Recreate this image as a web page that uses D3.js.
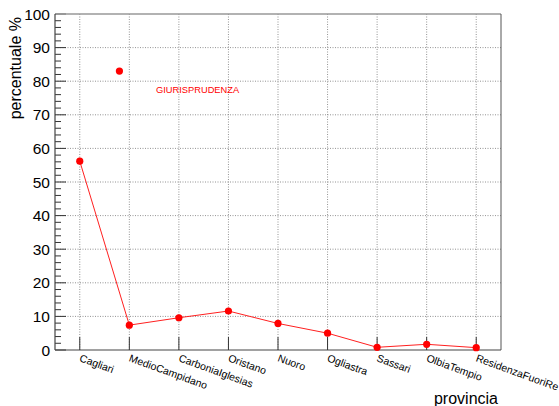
<!DOCTYPE html>
<html><head><meta charset="utf-8">
<script src="https://cdn.jsdelivr.net/npm/d3@7"></script>
<style>body{margin:0;background:#fff}svg{display:block}text{font-family:"Liberation Sans",Arial,sans-serif}</style>
</head><body><svg id="c" width="559" height="406"></svg>
<script>
const categories = ["Cagliari","MedioCampidano","CarboniaIglesias","Oristano","Nuoro","Ogliastra","Sassari","OlbiaTempio","ResidenzaFuoriRe"];
const values = [56.2, 7.4, 9.6, 11.6, 7.9, 5.0, 0.8, 1.7, 0.7];
const yTicks = [0,10,20,30,40,50,60,70,80,90,100];
const legendLabel = "GIURISPRUDENZA";
const legendPoint = [1.3, 83.0];

const svg = d3.select("#c");
const L=55, R=501, T=14, B=350;
const x = d3.scaleLinear().domain([0, categories.length]).range([L, R]);
const y = d3.scaleLinear().domain([0, 100]).range([B, T]);
const cx = i => x(i + 0.5);

// grid
const g = svg.append("g");
yTicks.filter(v=>v>0&&v<100).forEach(v=>{
  g.append("line").attr("x1",L).attr("x2",R).attr("y1",y(v)).attr("y2",y(v))
   .attr("stroke","#777").attr("stroke-width",0.8).attr("stroke-dasharray","1,1.5");
});
categories.forEach((c,i)=>{
  g.append("line").attr("x1",cx(i)).attr("x2",cx(i)).attr("y1",T).attr("y2",B)
   .attr("stroke","#777").attr("stroke-width",0.8).attr("stroke-dasharray","1,1.5");
});

// y axis ticks (inside)
const minor = d3.range(0, 100.001, 2);
minor.forEach(v=>{
  const major = Math.abs(v%10)<1e-6;
  svg.append("line").attr("x1",L).attr("x2",L+(major?11:6)).attr("y1",y(v)).attr("y2",y(v))
    .attr("stroke","#333").attr("stroke-width",1);
});
svg.append("g").selectAll("text").data(yTicks).join("text")
  .attr("x",L-5).attr("y",v=>y(v)+5.5).attr("text-anchor","end")
  .attr("font-size",15.5).attr("fill","#000").text(d=>d);

// x ticks
categories.forEach((c,i)=>{
  svg.append("line").attr("x1",cx(i)).attr("x2",cx(i)).attr("y1",B).attr("y2",B-13)
    .attr("stroke","#333").attr("stroke-width",1);
});
svg.append("g").selectAll("text").data(categories).join("text")
  .attr("transform",(d,i)=>`translate(${cx(i)-1},${B+11}) rotate(20)`)
  .attr("font-size",10.5).attr("fill","#000").text(d=>d);

// frame
svg.append("line").attr("x1",L).attr("x2",R).attr("y1",T).attr("y2",T).attr("stroke","#999").attr("stroke-width",1.5);
svg.append("line").attr("x1",R).attr("x2",R).attr("y1",T).attr("y2",B).attr("stroke","#555").attr("stroke-width",1);
svg.append("line").attr("x1",L).attr("x2",L).attr("y1",T).attr("y2",B).attr("stroke","#444").attr("stroke-width",1.2);
svg.append("line").attr("x1",L).attr("x2",R).attr("y1",B).attr("y2",B).attr("stroke","#444").attr("stroke-width",1.2);

// series
const line = d3.line().x((d,i)=>cx(i)).y(d=>y(d));
svg.append("path").attr("d",line(values)).attr("fill","none").attr("stroke","#ff2020").attr("stroke-width",1);
svg.append("g").selectAll("circle").data(values).join("circle")
  .attr("cx",(d,i)=>cx(i)).attr("cy",d=>y(d)).attr("r",3.6).attr("fill","#ff0000");

// legend marker + label
svg.append("circle").attr("cx",x(legendPoint[0])).attr("cy",y(legendPoint[1])).attr("r",3.6).attr("fill","#ff0000");
svg.append("text").attr("x",156).attr("y",93).attr("font-size",9.3).attr("fill","#ff0000").text(legendLabel);

// titles
svg.append("text").attr("transform",`translate(21,17) rotate(-90)`).attr("text-anchor","end")
  .attr("font-size",16).attr("fill","#000").text("percentuale %");
svg.append("text").attr("x",498).attr("y",404).attr("text-anchor","end")
  .attr("font-size",16).attr("fill","#000").text("provincia");
</script></body></html>
